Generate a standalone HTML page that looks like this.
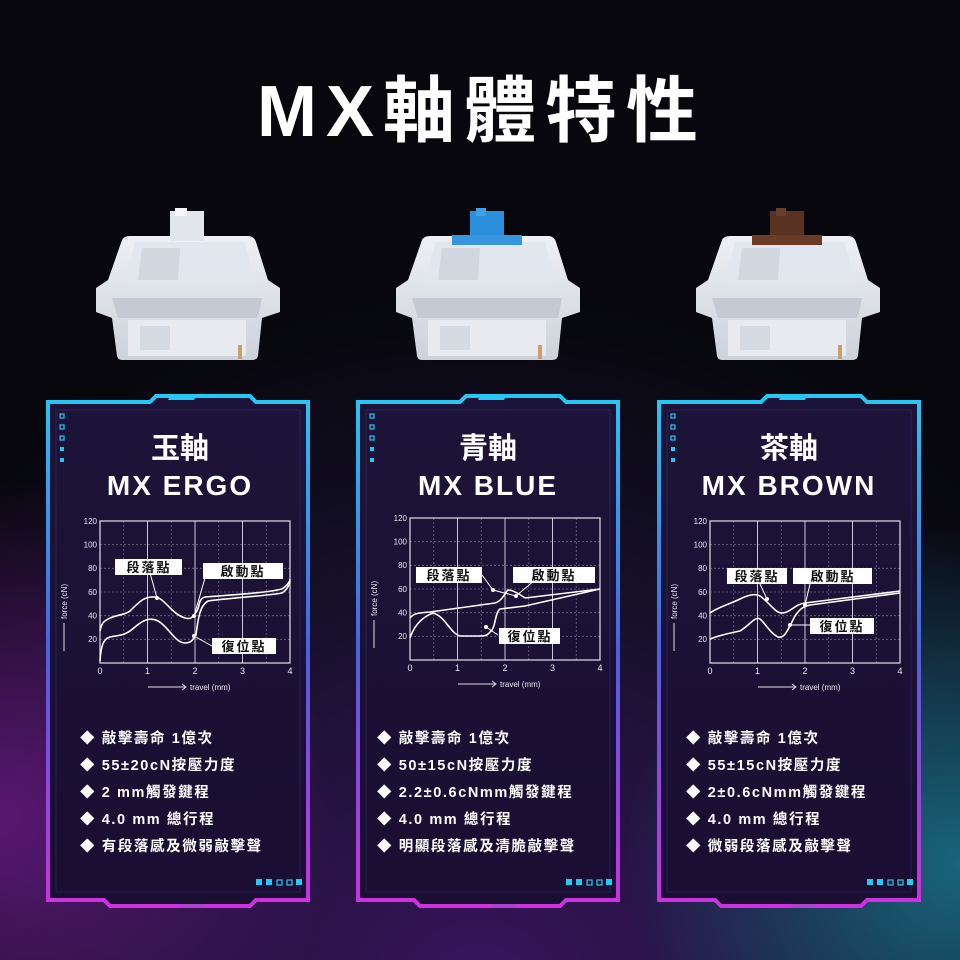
<!DOCTYPE html>
<html><head><meta charset="utf-8"><style>
html,body{margin:0;padding:0;background:#07070d}
svg{display:block}
text{font-family:"Liberation Sans","Noto Sans CJK TC",sans-serif}
</style></head><body>
<svg width="960" height="960" viewBox="0 0 960 960" xmlns="http://www.w3.org/2000/svg">
<defs>
<radialGradient id="bgp" cx="0.5" cy="1.05" r="0.75">
<stop offset="0" stop-color="#3a1560"/><stop offset="0.6" stop-color="#16102a"/><stop offset="1" stop-color="#07070d"/>
</radialGradient>
<radialGradient id="cy" cx="1" cy="0.9" r="0.35">
<stop offset="0" stop-color="#1a8aa0" stop-opacity="0.7"/><stop offset="1" stop-color="#1a8aa0" stop-opacity="0"/>
</radialGradient>
<radialGradient id="mg" cx="0" cy="0.85" r="0.35">
<stop offset="0" stop-color="#a020c0" stop-opacity="0.5"/><stop offset="1" stop-color="#a020c0" stop-opacity="0"/>
</radialGradient>
<linearGradient id="fr" x1="0" y1="0" x2="0" y2="1">
<stop offset="0" stop-color="#25c8f5"/><stop offset="0.5" stop-color="#4a60e0"/><stop offset="1" stop-color="#d030e0"/>
</linearGradient>
<linearGradient id="fill" x1="0" y1="0" x2="0" y2="1">
<stop offset="0" stop-color="#1c1438"/><stop offset="1" stop-color="#1a0e32"/>
</linearGradient>
<linearGradient id="sw" x1="0" y1="0" x2="0" y2="1">
<stop offset="0" stop-color="#eef0f5"/><stop offset="1" stop-color="#cdd1da"/>
</linearGradient>
<g id="frame">
<polygon points="48,402 150,402 156,396 250,396 256,402 308,402 308,900 256,900 250,906 110,906 104,900 48,900" fill="url(#fill)" stroke="url(#fr)" stroke-width="4"/>
<rect x="56" y="410" width="244" height="482" fill="none" stroke="#3a3070" stroke-width="1" opacity="0.5"/>
<polygon points="170,396 196,396 194,400 168,400" fill="#25c8f5"/>
<g fill="none" stroke="#25c8f5" stroke-width="1.2"><rect x="60" y="414" width="4" height="4"/><rect x="60" y="425" width="4" height="4"/><rect x="60" y="436" width="4" height="4"/></g>
<rect x="60" y="447" width="4" height="4" fill="#25c8f5"/><rect x="60" y="458" width="4" height="4" fill="#25c8f5"/>
<g fill="#25c8f5"><rect x="256" y="879" width="6" height="6"/><rect x="266" y="879" width="6" height="6"/></g>
<g fill="none" stroke="#25c8f5" stroke-width="1.2"><rect x="277" y="880" width="5" height="5"/><rect x="287" y="880" width="5" height="5"/></g>
<rect x="296" y="879" width="6" height="6" fill="#25c8f5"/>
<polygon points="182,904 206,904 204,908 180,908" fill="#b040d0"/>
</g>
<g id="grid">
<g stroke="#6a6a8a" stroke-width="0.8" stroke-dasharray="2,2">
<line x1="0" y1="23.7" x2="190" y2="23.7"/><line x1="0" y1="47.3" x2="190" y2="47.3"/><line x1="0" y1="71" x2="190" y2="71"/><line x1="0" y1="94.7" x2="190" y2="94.7"/><line x1="0" y1="118.3" x2="190" y2="118.3"/>
<line x1="23.75" y1="0" x2="23.75" y2="142"/><line x1="71.25" y1="0" x2="71.25" y2="142"/><line x1="118.75" y1="0" x2="118.75" y2="142"/><line x1="166.25" y1="0" x2="166.25" y2="142"/>
</g>
<g stroke="#c8c8d8" stroke-width="1">
<line x1="47.5" y1="0" x2="47.5" y2="142"/><line x1="95" y1="0" x2="95" y2="142"/><line x1="142.5" y1="0" x2="142.5" y2="142"/>
</g>
<rect x="0" y="0" width="190" height="142" fill="none" stroke="#e0e0ea" stroke-width="1.2"/>
<g fill="#e8e8f0" font-size="8" text-anchor="end">
<text x="-3" y="3">120</text><text x="-3" y="26.5">100</text><text x="-3" y="50">80</text><text x="-3" y="74">60</text><text x="-3" y="97.5">40</text><text x="-3" y="121">20</text>
</g>
<g fill="#e8e8f0" font-size="9" text-anchor="middle">
<text x="0" y="153">0</text><text x="47.5" y="153">1</text><text x="95" y="153">2</text><text x="142.5" y="153">3</text><text x="190" y="153">4</text>
</g>
<line x1="48" y1="166" x2="85" y2="166" stroke="#ddd" stroke-width="1"/><path d="M82,163 L86,166 L82,169" fill="none" stroke="#ddd"/>
<text x="90" y="169" fill="#e8e8f0" font-size="8">travel (mm)</text>
<text transform="translate(-33,98) rotate(-90)" fill="#e8e8f0" font-size="8">force (cN)</text>
<line x1="-36" y1="102" x2="-36" y2="130" stroke="#ddd"/>
</g>
</defs>

<rect width="960" height="960" fill="url(#bgp)"/>
<rect width="960" height="960" fill="url(#cy)"/>
<rect width="960" height="960" fill="url(#mg)"/>

<text x="482" y="136" text-anchor="middle" fill="#ffffff" font-size="72" font-weight="bold" letter-spacing="9">MX軸體特性</text>

<!-- switches -->
<g id="swA">
<path d="M122,240 Q124,236 130,236 L248,236 Q254,236 256,242 L268,280 L280,288 L280,312 L262,318 L258,356 Q257,360 252,360 L122,360 Q118,360 117,356 L112,318 L96,312 L96,288 L108,280 Z" fill="url(#sw)"/>
<path d="M135,242 L245,242 L255,282 L125,282 Z" fill="#e2e6ee"/>
<path d="M142,248 L180,248 L178,280 L138,280 Z" fill="#d2d6de"/>
<path d="M112,298 L262,298 L258,318 L118,318 Z" fill="#c4c9d3"/>
<rect x="128" y="320" width="118" height="36" fill="#e8eaf0"/>
<rect x="140" y="326" width="30" height="24" fill="#d6dae2"/>
<rect x="238" y="345" width="4" height="14" fill="#c8a070"/>
</g>
<rect x="170" y="211" width="34" height="30" fill="#e2e6ec"/><rect x="175" y="208" width="12" height="8" fill="#f4f6f8"/>
<use href="#swA" transform="translate(300,0)"/>
<rect x="470" y="211" width="34" height="30" fill="#2b8fdc"/><rect x="476" y="208" width="10" height="8" fill="#40a0e8"/><rect x="452" y="235" width="70" height="10" fill="#3896e0"/>
<use href="#swA" transform="translate(600,0)"/>
<rect x="770" y="211" width="34" height="30" fill="#5a3222"/><rect x="776" y="208" width="10" height="8" fill="#6a3e2c"/><rect x="752" y="235" width="70" height="10" fill="#6a3c28"/>

<!-- cards -->
<use href="#frame"/>
<use href="#frame" transform="translate(310,0)"/>
<use href="#frame" transform="translate(611,0)"/>

<g fill="#fff" font-weight="bold" text-anchor="middle">
<text x="180" y="458" font-size="29">玉軸</text>
<text x="180" y="495" font-size="28" letter-spacing="2">MX ERGO</text>
<text x="488" y="458" font-size="29">青軸</text>
<text x="488" y="495" font-size="28" letter-spacing="2">MX BLUE</text>
<text x="789" y="458" font-size="29">茶軸</text>
<text x="789" y="495" font-size="28" letter-spacing="2">MX BROWN</text>
</g>

<!-- charts -->
<g transform="translate(100,521)">
<use href="#grid"/>
<g fill="none" stroke="#fff" stroke-width="1.6">
<path d="M0,110 C2,100 5,100 10,97 C20,93 25,94 30,90 C40,80 45,75 55,76 C65,77 70,92 85,97 C92,99 93,95 97,90 C100,85 98,78 105,76 C130,74 165,72 182,68 C188,64 190,60 190,58"/>
<path d="M0,140 C1,125 3,118 10,116 C20,114 25,115 35,106 C43,99 50,96 58,100 C68,105 75,122 85,122 C92,122 93,118 96,114 C98,100 99,85 108,80 C130,77 165,75 182,72 C188,68 190,62 190,60"/>
</g>
<g fill="#fff"><circle cx="57" cy="77" r="2"/><circle cx="94" cy="95" r="2"/><circle cx="94" cy="115" r="2"/></g>
<g stroke="#fff" stroke-width="1" fill="none"><path d="M50,52 L57,77"/><path d="M105,57 L94,95"/><path d="M112,125 L94,115"/></g>
</g>
<g transform="translate(410,518)">
<use href="#grid"/>
<g fill="none" stroke="#fff" stroke-width="1.6">
<path d="M0,100 C3,96 6,95 20,94 L85,85 C92,83 95,75 98,72 C102,72 108,75 115,80"/>
<path d="M115,80 L190,71"/>
<path d="M0,120 C5,105 15,98 23,95 C35,98 40,115 50,118 L70,118 C78,118 78,116 82,112 C86,106 85,95 90,91 L115,88 L190,71"/>
</g>
<g fill="#fff"><circle cx="83" cy="72" r="2"/><circle cx="106" cy="78" r="2"/><circle cx="76" cy="109" r="2"/></g>
<g stroke="#fff" stroke-width="1" fill="none"><path d="M72,57 L83,72 L106,78 L125,62"/><path d="M88,117 L76,109"/></g>
</g>
<g transform="translate(710,521)">
<use href="#grid"/>
<g fill="none" stroke="#fff" stroke-width="1.6">
<path d="M0,92 C8,86 20,83 30,78 C38,74 45,72 50,75 C60,82 65,92 72,92 C80,92 85,83 95,82 L190,70"/>
<path d="M0,118 C10,114 20,112 30,110 C40,104 45,95 50,98 C55,102 60,112 68,116 C75,118 78,108 85,95 C90,88 92,86 100,84 L190,72"/>
</g>
<g fill="#fff"><circle cx="57" cy="78" r="2"/><circle cx="95" cy="84" r="2"/><circle cx="80" cy="104" r="2"/></g>
<g stroke="#fff" stroke-width="1" fill="none"><path d="M50,63 L57,78"/><path d="M100,63 L95,84"/><path d="M100,104 L80,104"/></g>
</g>

<!-- label boxes -->
<g fill="#fff"><rect x="115" y="559" width="67" height="16"/><rect x="203" y="563" width="80" height="16"/><rect x="212" y="638" width="64" height="16"/>
<rect x="416" y="567" width="66" height="16"/><rect x="513" y="567" width="82" height="16"/><rect x="499" y="628" width="61" height="16"/>
<rect x="727" y="568" width="60" height="16"/><rect x="793" y="568" width="79" height="16"/><rect x="810" y="618" width="64" height="16"/></g>
<g fill="#111" font-size="13" font-weight="bold" text-anchor="middle" letter-spacing="2">
<text x="149" y="572">段落點</text><text x="243" y="576">啟動點</text><text x="244" y="651">復位點</text>
<text x="449" y="580">段落點</text><text x="554" y="580">啟動點</text><text x="530" y="641">復位點</text>
<text x="757" y="581">段落點</text><text x="833" y="581">啟動點</text><text x="842" y="631">復位點</text>
</g>

<!-- bullets -->
<g fill="#fff" font-size="14.5" font-weight="bold" letter-spacing="1.6">
<text x="80" y="743">◆ 敲擊壽命 1億次</text>
<text x="80" y="770">◆ 55±20cN按壓力度</text>
<text x="80" y="797">◆ 2 mm觸發鍵程</text>
<text x="80" y="824">◆ 4.0 mm 總行程</text>
<text x="80" y="851">◆ 有段落感及微弱敲擊聲</text>
<text x="377" y="743">◆ 敲擊壽命 1億次</text>
<text x="377" y="770">◆ 50±15cN按壓力度</text>
<text x="377" y="797">◆ 2.2±0.6cNmm觸發鍵程</text>
<text x="377" y="824">◆ 4.0 mm 總行程</text>
<text x="377" y="851">◆ 明顯段落感及清脆敲擊聲</text>
<text x="686" y="743">◆ 敲擊壽命 1億次</text>
<text x="686" y="770">◆ 55±15cN按壓力度</text>
<text x="686" y="797">◆ 2±0.6cNmm觸發鍵程</text>
<text x="686" y="824">◆ 4.0 mm 總行程</text>
<text x="686" y="851">◆ 微弱段落感及敲擊聲</text>
</g>
</svg>
</body></html>
